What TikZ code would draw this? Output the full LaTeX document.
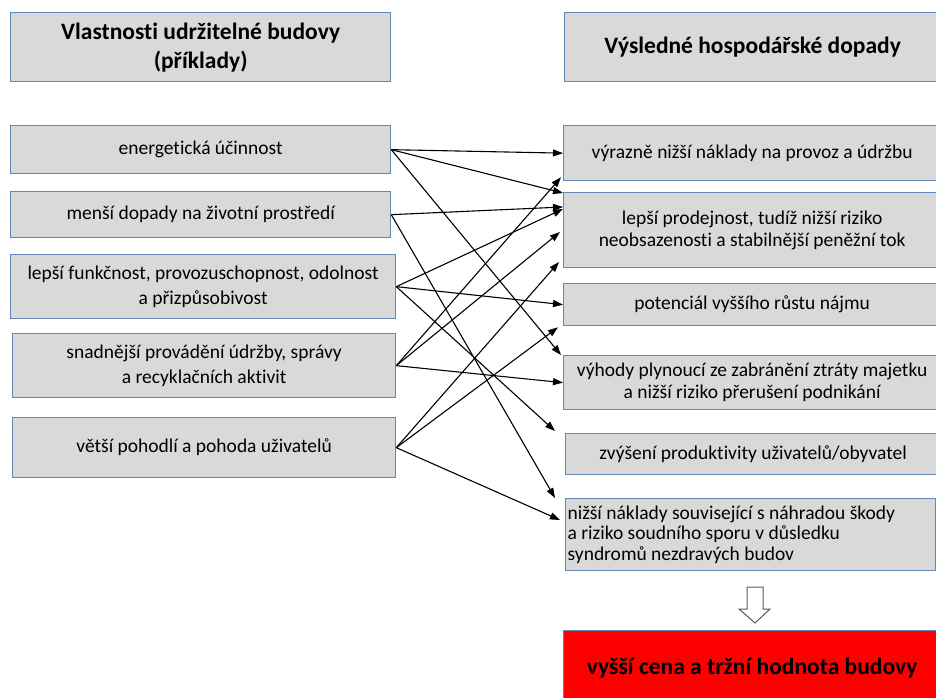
\documentclass[tikz,border=0pt]{standalone}
\usepackage{fontspec}
\setmainfont{Carlito}[Ligatures=NoCommon]
\usetikzlibrary{arrows.meta}
\definecolor{boxgray}{RGB}{217,217,217}
\definecolor{boxborder}{RGB}{98,136,186}
\definecolor{hollowgray}{RGB}{90,90,90}
\begin{document}
\begin{tikzpicture}[x=1pt,y=-1pt,
  box/.style={draw=boxborder, line width=1.3pt, fill=boxgray, inner sep=2pt,
    align=center, anchor=north west, font=\fontsize{19.5}{25}\selectfont},
  headbox/.style={box, font=\bfseries\fontsize{23.5}{29}\selectfont},
  link/.style={line width=1.1pt, -{Triangle[length=10pt,width=7pt]}}]
\useasboundingbox (0,0) rectangle (936,697);
% headers
\node[headbox, minimum width=380pt, minimum height=69pt] (HL) at (10,12)
  {Vlastnosti udržitelné budovy\\(příklady)};
\node[headbox, minimum width=376pt, minimum height=69pt] (HR) at (564,12)
  {Výsledné hospodářské dopady};
% left column
\node[box, minimum width=380pt, minimum height=48pt] (L1) at (10,125) {energetická účinnost};
\node[box, minimum width=380pt, minimum height=46pt] (L2) at (10,191) {menší dopady na životní prostředí};
\node[box, minimum width=385pt, minimum height=64pt] (L3) at (10,254) {lepší funkčnost, provozuschopnost, odolnost\\a přizpůsobivost};
\node[box, minimum width=383pt, minimum height=64pt] (L4) at (12,333) {snadnější provádění údržby, správy\\a recyklačních aktivit};
\node[box, minimum width=383pt, minimum height=60pt] (L5) at (12,417) {větší pohodlí a pohoda uživatelů};
% right column
\node[box, minimum width=377pt, minimum height=55pt] (R1) at (563,125) {výrazně nižší náklady na provoz a údržbu};
\node[box, minimum width=377pt, minimum height=75pt, font=\fontsize{19.5}{22}\selectfont] (R2) at (563,192) {lepší prodejnost, tudíž nižší riziko\\neobsazenosti a stabilnější peněžní tok};
\node[box, minimum width=377pt, minimum height=42pt] (R3) at (563,283) {potenciál vyššího růstu nájmu};
\node[box, minimum width=377pt, minimum height=54pt, font=\fontsize{19.5}{22}\selectfont] (R4) at (563,355) {výhody plynoucí ze zabránění ztráty majetku\\a nižší riziko přerušení podnikání};
\node[box, minimum width=375pt, minimum height=41pt] (R5) at (565,433) {zvýšení produktivity uživatelů/obyvatel};
\node[box, align=flush left, text width=366pt, inner xsep=2pt, minimum height=72pt,
  font=\fontsize{19.5}{20.5}\selectfont] (R6) at (565,498)
  {nižší náklady související s náhradou škody\\a riziko soudního sporu v důsledku\\syndromů nezdravých budov};
% result
\draw[fill=white, draw=hollowgray, line width=1pt]
  (747,587) -- (763,587) -- (763,609) -- (770,609) -- (755,623) -- (739,609) -- (747,609) -- cycle;
\node[box, fill=red, minimum width=377pt, minimum height=74pt,
  font=\bfseries\fontsize{23.5}{28}\selectfont] (RES) at (563,630) {vyšší cena a tržní hodnota budovy};
% links
\draw[link] (L1.east) -- (R1.west);
\draw[link] (L1.east) -- ([yshift=-1pt]R2.north west);
\draw[link] (L1.east) -- ([xshift=-2pt]R4.north west);
\draw[link] (L2.east) -- ([yshift=-15pt]R2.north west);
\draw[link] (L2.east) -- ([xshift=-10pt]R6.north west);
\draw[link] (L3.east) -- ([yshift=-17pt]R2.north west);
\draw[link] (L3.east) -- (R3.west);
\draw[link] (L3.east) -- ([xshift=-10pt,yshift=2pt]R5.north west);
\draw[link] (L4.east) -- ([xshift=-2pt,yshift=4pt]R1.south west);
\draw[link] (L4.east) -- ([xshift=-3pt,yshift=-40pt]R2.north west);
\draw[link] (L4.east) -- (R4.west);
\draw[link] (L5.east) -- ([xshift=-4pt,yshift=-70pt]R2.north west);
\draw[link] (L5.east) -- ([xshift=-5pt,yshift=-1pt]R3.south west);
\draw[link] (L5.east) -- ([xshift=-5pt,yshift=-22pt]R6.north west);
\end{tikzpicture}
\end{document}
